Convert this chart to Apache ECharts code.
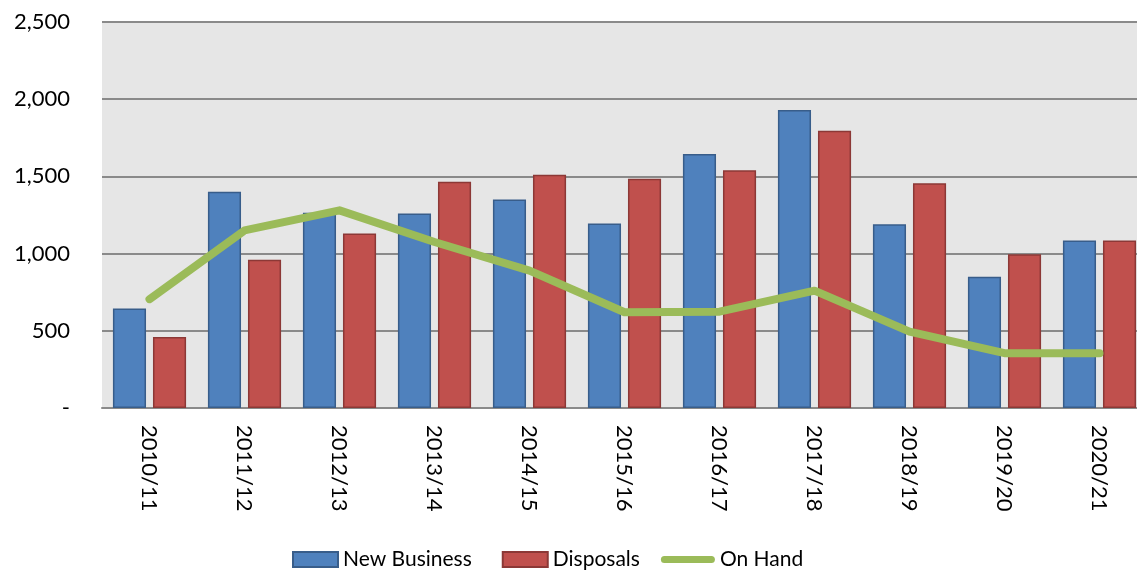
<!DOCTYPE html>
<html>
<head>
<meta charset="utf-8">
<script src="https://cdn.jsdelivr.net/npm/echarts@6/dist/echarts.min.js"></script>
<style>
  html, body { margin: 0; padding: 0; background: #ffffff; }
  #chart { width: 1137px; height: 572px; }
</style>
</head>
<body>
<div id="chart"></div>
<script>
// Financial years shown along the category axis
const years = ['2010/11', '2011/12', '2012/13', '2013/14', '2014/15', '2015/16',
               '2016/17', '2017/18', '2018/19', '2019/20', '2020/21'];

// Yearly counts
const newBusiness = [645, 1400, 1265, 1260, 1350, 1195, 1645, 1930, 1190, 850, 1085];
const disposals   = [460, 960, 1130, 1465, 1510, 1485, 1540, 1795, 1455, 995, 1085];
const onHand      = [705, 1150, 1280, 1075, 890, 620, 624, 760, 495, 355, 355];

// Value axis range
const yMin = 0, yMax = 2500, yStep = 500;

const FONT = 'Lato, "Liberation Sans", sans-serif';

// Legend icons drawn inside a 54 x 15 box (the stray moveTo points pin the box)
const rectIcon = 'path://M0,0 M54,15 M9,0 L54,0 L54,15 L9,15 Z';
const lineIcon = 'path://M0,0 M54,15 M3.5,4 L50.5,4 A3.5,3.5 0 0 1 50.5,11 L3.5,11 A3.5,3.5 0 0 1 3.5,4 Z';

const chart = echarts.init(document.getElementById('chart'), null, { renderer: 'canvas' });

chart.setOption({
  animation: false,
  backgroundColor: '#ffffff',
  textStyle: { fontFamily: FONT },
  // The plot runs a little past the right edge of the canvas
  grid: {
    left: 102, width: 1045, top: 22, bottom: 164,
    outerBoundsMode: 'none',
    show: true, backgroundColor: '#e6e6e6', borderWidth: 0
  },
  legend: {
    left: 283, top: 549,
    itemWidth: 54, itemHeight: 15, itemGap: 21,
    symbolKeepAspect: false,
    padding: 0,
    textStyle: { fontSize: 21, color: '#000000', fontFamily: FONT },
    data: [
      { name: 'New Business', icon: rectIcon },
      { name: 'Disposals', icon: rectIcon },
      { name: 'On Hand', icon: lineIcon, itemStyle: { borderWidth: 0 } }
    ]
  },
  xAxis: {
    type: 'category',
    data: years,
    axisTick: { show: false },
    axisLine: { show: true, lineStyle: { color: '#8a8a8a', width: 2 } },
    axisLabel: {
      interval: 0, rotate: -90, margin: 17,
      fontSize: 22, color: '#000000', fontFamily: FONT
    }
  },
  yAxis: {
    type: 'value',
    min: yMin, max: yMax, interval: yStep,
    axisLine: { show: false },
    axisTick: { show: false },
    splitLine: { show: true, lineStyle: { color: '#8a8a8a', width: 2 } },
    axisLabel: {
      margin: 32, fontSize: 22, color: '#000000', fontFamily: FONT,
      formatter: v => v === 0 ? '-' : v.toLocaleString('en-US')
    }
  },
  series: [
    {
      name: 'New Business', type: 'bar', data: newBusiness,
      barGap: '21%', barCategoryGap: '23%',
      itemStyle: { color: '#4f81bd', borderColor: '#385d8a', borderWidth: 1.5 }
    },
    {
      name: 'Disposals', type: 'bar', data: disposals,
      barGap: '21%', barCategoryGap: '23%',
      itemStyle: { color: '#c0504d', borderColor: '#8c3836', borderWidth: 1.5 }
    },
    {
      name: 'On Hand', type: 'line', data: onHand,
      symbol: 'none', z: 5,
      itemStyle: { color: '#9bbb59' },
      lineStyle: { color: '#9bbb59', width: 8, cap: 'round', join: 'round' }
    }
  ]
});
</script>
</body>
</html>
